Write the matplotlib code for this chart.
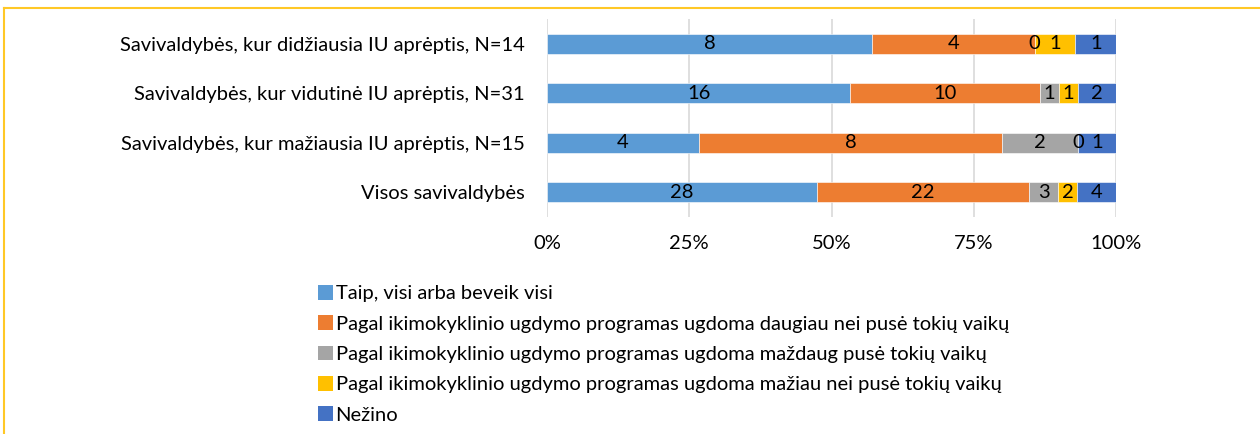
import matplotlib.pyplot as plt
from matplotlib.lines import Line2D
from matplotlib.patches import Patch
import numpy as np

plt.rcParams['font.family'] = ['Lato', 'DejaVu Sans']

# Data
categories = ['Savivaldybės, kur didžiausia IU aprėptis, N=14',
              'Savivaldybės, kur vidutinė IU aprėptis, N=31',
              'Savivaldybės, kur mažiausia IU aprėptis, N=15',
              'Visos savivaldybės']
series_names = ['Taip, visi arba beveik visi',
                'Pagal ikimokyklinio ugdymo programas ugdoma daugiau nei pusė tokių vaikų',
                'Pagal ikimokyklinio ugdymo programas ugdoma maždaug pusė tokių vaikų',
                'Pagal ikimokyklinio ugdymo programas ugdoma mažiau nei pusė tokių vaikų',
                'Nežino']
taip = [8, 16, 4, 28]
daugiau = [4, 10, 8, 22]
mazdaug = [0, 1, 2, 3]
maziau = [1, 1, 0, 2]
nezino = [1, 2, 1, 4]
colors = ['#5B9BD5', '#ED7D31', '#A5A5A5', '#FFC000', '#4472C4']
xticks = [0, 0.25, 0.5, 0.75, 1.0]
xtick_labels = ['0%', '25%', '50%', '75%', '100%']

counts = np.array([taip, daugiau, mazdaug, maziau, nezino], dtype=float)
shares = counts / counts.sum(axis=0)

fs = 14.5

fig = plt.figure(figsize=(12.6, 4.34), dpi=100)
ax = fig.add_axes([547 / 1260, (434 - 217) / 434, 569 / 1260, 198 / 434])

y = np.arange(len(categories))
left = np.zeros(len(categories))
for i in range(len(series_names)):
    ax.barh(y, shares[i], left=left, height=0.4, color=colors[i],
            edgecolor='white', linewidth=0.4, label=series_names[i], zorder=2)
    for j in range(len(categories)):
        ax.text(left[j] + shares[i][j] / 2, y[j], '%d' % counts[i][j],
                ha='center', va='center', fontsize=fs, color='black', zorder=3)
    left += shares[i]

ax.set_xlim(0, 1)
ax.set_ylim(len(categories) - 0.5, -0.5)
ax.set_yticks(y)
ax.set_yticklabels(categories, fontsize=fs)
ax.set_xticks(xticks)
ax.set_xticklabels(xtick_labels, fontsize=fs)
ax.tick_params(axis='both', length=0)
ax.tick_params(axis='y', pad=15.8)
ax.tick_params(axis='x', pad=13)
ax.grid(axis='x', color='#D9D9D9', linewidth=1.2, zorder=0)
for s in ax.spines.values():
    s.set_visible(False)

handles = [Patch(facecolor=c, edgecolor='none') for c in colors]
fig.legend(handles, series_names, loc='upper left',
           bbox_to_anchor=(318 / 1260, (434 - 285) / 434),
           frameon=False, fontsize=fs, handlelength=0.75, handleheight=0.75,
           handletextpad=0.12, labelspacing=0.64, borderpad=0, borderaxespad=0)

# outer frame (top and left edges)
fig.add_artist(Line2D([4 / 1260, 1], [1 - 8 / 434, 1 - 8 / 434], color='#FFC826', linewidth=1.5))
fig.add_artist(Line2D([4 / 1260, 4 / 1260], [0, 1 - 8 / 434], color='#FFC826', linewidth=1.5))

fig.savefig('out.png', dpi=100)
